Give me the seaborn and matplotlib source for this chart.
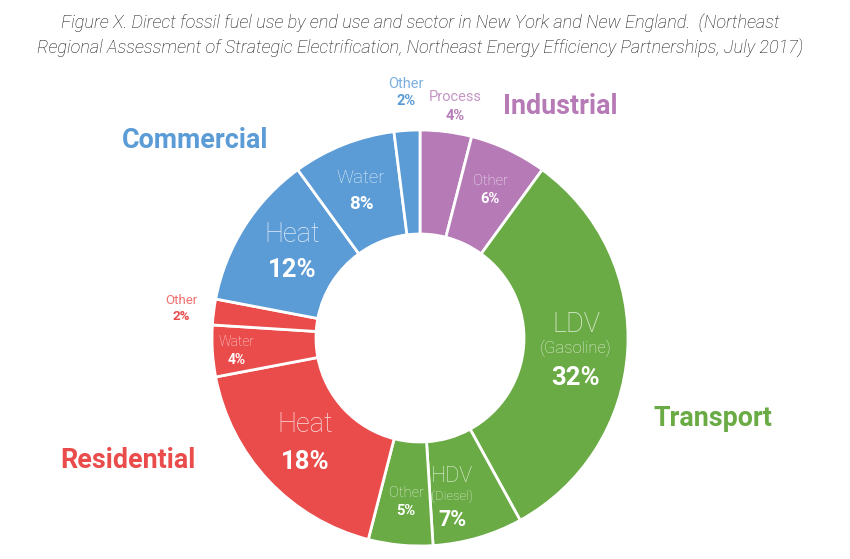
import matplotlib
matplotlib.use("Agg")
import matplotlib.pyplot as plt
import seaborn as sns

# ---- data ----
slice_names = ["Process", "Other", "LDV", "HDV", "Other", "Heat", "Water", "Other", "Heat", "Water", "Other"]
slice_values = [4, 6, 32, 7, 5, 18, 4, 2, 12, 8, 2]
slice_sectors = ["Industrial", "Industrial", "Transport", "Transport", "Transport",
                 "Residential", "Residential", "Residential",
                 "Commercial", "Commercial", "Commercial"]
slice_subtitles = ["", "", "(Gasoline)", "(Diesel)", "", "", "", "", "", "", ""]
sectors = ["Commercial", "Industrial", "Transport", "Residential"]
title = ("Figure X. Direct fossil fuel use by end use and sector in New York and New England.  (Northeast\n"
         "Regional Assessment of Strategic Electrification, Northeast Energy Efficiency Partnerships, July 2017)")

sector_colors = {"Industrial": "#B67BB7", "Transport": "#6AAB45",
                 "Residential": "#EA4B4B", "Commercial": "#5B9BD6"}

sns.set_theme(style="white")
plt.rcParams["font.family"] = ["Roboto", "DejaVu Sans"]

W, H = 850, 559
fig = plt.figure(figsize=(W / 100, H / 100), dpi=100)
ax = fig.add_axes([0, 0, 1, 1])

cx, cy, R = 420, H - 338, 208
colors = [sector_colors[s] for s in slice_sectors]
ax.pie(slice_values, colors=colors, startangle=90, counterclock=False,
       center=(cx, cy), radius=R, frame=True,
       wedgeprops=dict(width=R * 0.5, edgecolor="white", linewidth=2))
ax.set_xlim(0, W)
ax.set_ylim(0, H)
ax.set_aspect("equal")
ax.axis("off")

def Y(y):
    return H - y

# label layout: (x, name_y, sub_y, pct_y, name_size, sub_size, pct_size, outside)
layout = [
    (455, 97, None, 116, 10.5, 0, 10.5, True),     # Process
    (490, 181, None, 199, 10.5, 0, 10.5, False),   # Other ind
    (576, 324, 348, 378, 19.5, 12, 18.5, False),   # LDV
    (452, 476, 496, 520, 15.5, 9.5, 15.5, False),  # HDV
    (406, 493, None, 511, 10.5, 0, 10.5, False),   # Other tr
    (305, 424, None, 462, 19.5, 0, 18.5, False),   # Heat res
    (237, 342, None, 360, 10, 0, 10, False),       # Water res
    (181, 300, None, 317, 9.5, 0, 9.5, True),      # Other res
    (292, 235, None, 270, 19.5, 0, 18.5, False),   # Heat com
    (361, 178, None, 204, 13.5, 0, 13.5, False),   # Water com
    (406, 84, None, 101, 10.5, 0, 10.5, True),     # Other com
]

for name, sub, val, sec, (x, ny, sy, py, ns, ss, ps, outside) in zip(
        slice_names, slice_subtitles, slice_values, slice_sectors, layout):
    col = sector_colors[sec]
    if outside:
        ax.text(x, Y(ny), name, ha="center", va="center", fontsize=ns,
                color=col, alpha=0.8)
        ax.text(x, Y(py), f"{val}%", ha="center", va="center", fontsize=ps,
                color=col, fontweight="bold")
    else:
        ax.text(x, Y(ny), name, ha="center", va="center", fontsize=ns,
                color=(1, 1, 1, 0.82), fontweight="light")
        if sub:
            ax.text(x, Y(sy), sub, ha="center", va="center", fontsize=ss,
                    color=(1, 1, 1, 0.82), fontweight="light")
        ax.text(x, Y(py), f"{val}%", ha="center", va="center", fontsize=ps,
                color="white", fontweight="bold")

sector_pos = {"Commercial": (195, 141), "Industrial": (560, 107),
              "Transport": (713, 418), "Residential": (128, 460)}
for s in sectors:
    x, y = sector_pos[s]
    ax.text(x, Y(y), s, ha="center", va="center", fontsize=19.4,
            fontweight="bold", color=sector_colors[s])

ax.text(420, Y(35), title, ha="center", va="center", fontsize=13.1,
        style="italic", fontweight="light", color="#151515", linespacing=1.35)

fig.savefig("out.png", dpi=100, facecolor="white")
